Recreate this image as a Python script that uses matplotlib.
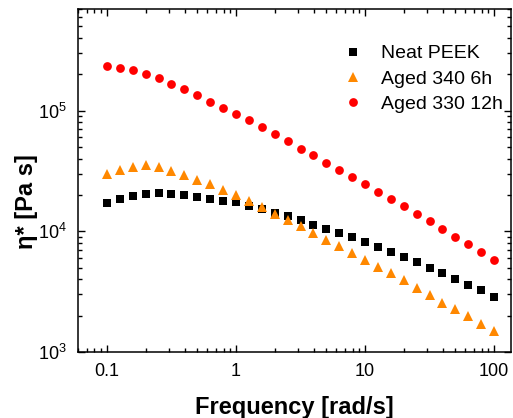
import numpy as np
import matplotlib
matplotlib.use('Agg')
import matplotlib.pyplot as plt
from matplotlib.ticker import LogLocator, FuncFormatter, NullFormatter

plt.rcParams['font.family'] = ['Liberation Sans', 'DejaVu Sans']
plt.rcParams['mathtext.default'] = 'regular'

# frequency [rad/s], 10 points per decade
freq = [0.1, 0.126, 0.158, 0.2, 0.251, 0.316, 0.398, 0.501, 0.631, 0.794,
        1.0, 1.26, 1.58, 2.0, 2.51, 3.16, 3.98, 5.01, 6.31, 7.94,
        10.0, 12.6, 15.8, 20.0, 25.1, 31.6, 39.8, 50.1, 63.1, 79.4, 100.0]

neat_peek = [1.73e4, 1.85e4, 1.97e4, 2.05e4, 2.06e4, 2.05e4, 2.00e4, 1.92e4, 1.86e4, 1.80e4,
             1.74e4, 1.63e4, 1.53e4, 1.42e4, 1.33e4, 1.23e4, 1.13e4, 1.045e4, 9.7e3, 8.9e3,
             8.15e3, 7.4e3, 6.7e3, 6.1e3, 5.6e3, 4.99e3, 4.5e3, 4.0e3, 3.59e3, 3.24e3, 2.88e3]

aged_340_6h = [2.99e4, 3.24e4, 3.39e4, 3.52e4, 3.41e4, 3.16e4, 2.91e4, 2.68e4, 2.45e4, 2.21e4,
               1.99e4, 1.78e4, 1.59e4, 1.40e4, 1.25e4, 1.10e4, 9.7e3, 8.5e3, 7.5e3, 6.6e3,
               5.8e3, 5.1e3, 4.5e3, 3.92e3, 3.41e3, 2.96e3, 2.57e3, 2.27e3, 1.97e3, 1.71e3, 1.48e3]

aged_330_12h = [2.33e5, 2.28e5, 2.18e5, 2.03e5, 1.85e5, 1.68e5, 1.51e5, 1.35e5, 1.19e5, 1.06e5,
                9.4e4, 8.3e4, 7.3e4, 6.36e4, 5.56e4, 4.86e4, 4.26e4, 3.70e4, 3.22e4, 2.82e4,
                2.45e4, 2.13e4, 1.85e4, 1.61e4, 1.40e4, 1.21e4, 1.04e4, 9.0e3, 7.8e3, 6.7e3, 5.8e3]

labels = ['Neat PEEK', 'Aged 340 6h', 'Aged 330 12h']

fig = plt.figure(figsize=(5.13, 4.18), dpi=100)
ax = fig.add_axes([0.152, 0.158, 0.844, 0.821])

ax.plot(freq, neat_peek, 's', color='black', ms=5.3, mew=0, label=labels[0])
ax.plot(freq, aged_340_6h, '^', color='#ff8800', ms=6.8, mew=0, label=labels[1])
ax.plot(freq, aged_330_12h, 'o', color='#ff0000', ms=6.3, mew=0, label=labels[2])

ax.set_xscale('log')
ax.set_yscale('log')
ax.set_xlim(0.0596, 135)
ax.set_ylim(1e3, 7.0e5)

ax.xaxis.set_major_locator(LogLocator(base=10, numticks=10))
ax.xaxis.set_major_formatter(FuncFormatter(lambda v, _: f'{v:g}'))
ax.xaxis.set_minor_locator(LogLocator(base=10, subs=np.arange(2, 10), numticks=20))
ax.xaxis.set_minor_formatter(NullFormatter())
ax.yaxis.set_major_locator(LogLocator(base=10, numticks=10))
ax.yaxis.set_minor_locator(LogLocator(base=10, subs=np.arange(2, 10), numticks=20))
ax.yaxis.set_minor_formatter(NullFormatter())

ax.tick_params(which='both', direction='in', top=True, right=True, width=1.0)
ax.tick_params(which='major', length=5, labelsize=13, pad=8)
ax.tick_params(which='minor', length=3)
for s in ax.spines.values():
    s.set_linewidth(1.1)

ax.set_xlabel('Frequency [rad/s]', fontsize=17, fontweight='bold')
ax.xaxis.set_label_coords(0.5, -0.127)
ax.set_ylabel('η* [Pa s]', fontsize=17, fontweight='bold')
ax.yaxis.set_label_coords(-0.092, 0.437)

ax.legend(loc='upper left', bbox_to_anchor=(0.6, 0.918), frameon=False, fontsize=14,
          handlelength=0.8, handletextpad=1.0, labelspacing=0.4, borderaxespad=0)

fig.savefig('out.png', dpi=100)
